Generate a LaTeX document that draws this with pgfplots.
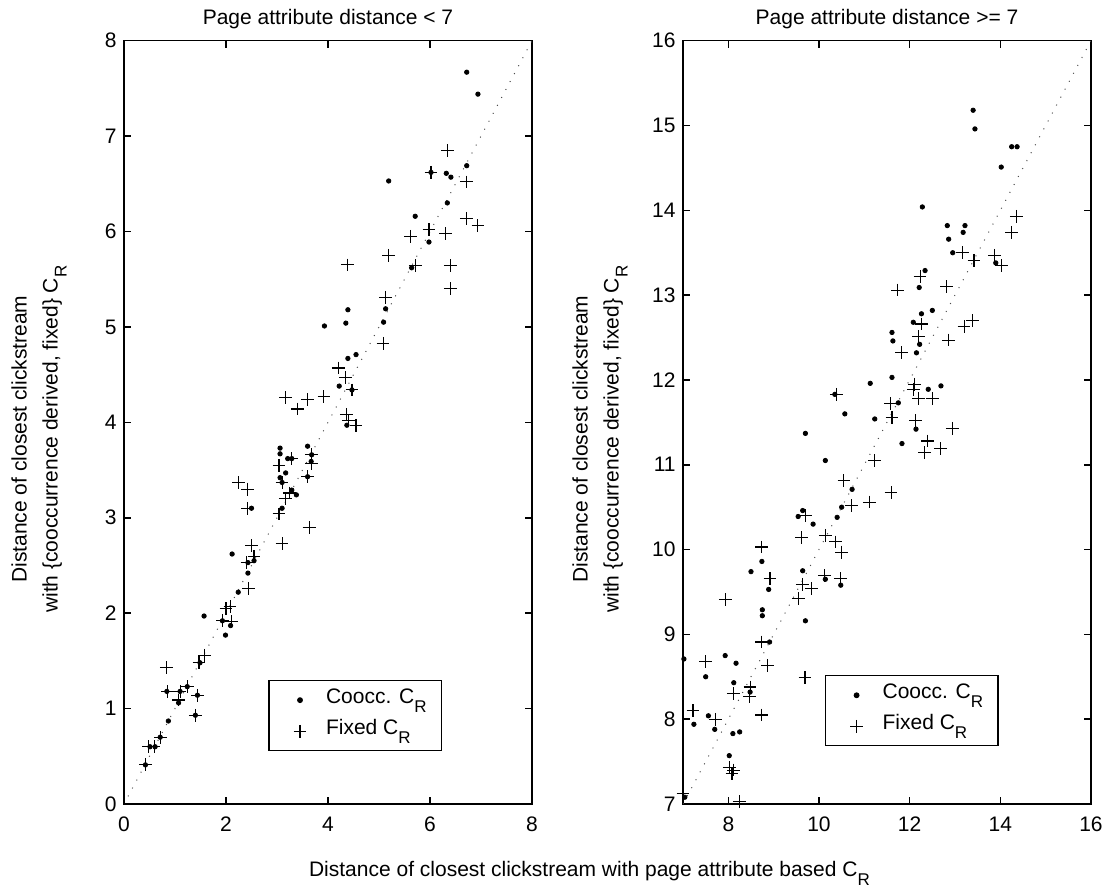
\documentclass[border=0pt]{standalone}
\usepackage{fontspec}
\setmainfont{Liberation Sans}
\usepackage{pgfplots}
\pgfplotsset{compat=1.18}

% subscript R as drawn by the original
\newcommand{\CR}{C\raisebox{-4.5pt}{\fontsize{8.5}{9}\selectfont R}}

\pgfplotsset{
  panel/.style={
    scale only axis, width=204pt, height=381.65pt, anchor=south west,
    font=\fontsize{10.5}{12.6}\selectfont,
    axis line style={line width=0.75pt},
    every tick/.style={black, line width=0.75pt},
    major tick length=3.5pt,
    tick align=inside, tick pos=both,
    /pgf/number format/assume math mode=true,
    xticklabel style={anchor=base, inner sep=0pt, yshift=-13.8pt},
    yticklabel style={anchor=east, inner sep=0pt, xshift=-3.5pt},
    every axis title/.style={at={(0.5,1)}, anchor=base, yshift=8.3pt},
    every axis y label/.style={rotate=90, anchor=center, align=center,
      font=\fontsize{10.5}{15.5}\selectfont},
    legend style={draw=black, line width=0.7pt, fill=white,
      inner xsep=7.5pt, inner ysep=2pt, row sep=0pt, anchor=north west,
      nodes={inner sep=0pt, text height=9.3pt, text depth=6.2pt}},
    legend cell align=left,
    legend image code/.code={\path[draw=none] (0pt,0pt) -- (21pt,0pt);
      \draw[only marks] plot coordinates {(8pt,0pt)};},
  },
  coocc/.style={only marks, mark=*, mark size=1.1pt, black},
  fixed/.style={only marks, mark=+, mark size=3.2pt, black, line width=0.55pt},
  diag/.style={black!70, line width=0.5pt, dash pattern=on 0.5pt off 4pt, forget plot},
}

\begin{document}
\begin{tikzpicture}
\path[use as bounding box] (0,0) rectangle (553.5pt,444pt);

\begin{axis}[panel, at={(62pt,42pt)},
  xmin=0, xmax=8, ymin=0, ymax=8,
  xtick={0,2,4,6,8}, ytick={0,1,2,3,4,5,6,7,8},
  title={Page attribute distance < 7},
  ylabel={Distance of closest clickstream\\with \{cooccurrence derived, fixed\} \CR},
  ylabel style={at={(axis description cs:-0.2083,0.478)}},
  legend style={at={(axis cs:2.83,1.30)}}]
\addplot[coocc] coordinates {
(6.72,7.67) (6.94,7.44) (6.72,6.69) (6.32,6.61) (6.41,6.57) (6.02,6.62)
(5.19,6.53) (6.34,6.30) (5.71,6.16) (5.98,5.89) (5.64,5.62) (5.13,5.19)
(4.39,5.18) (5.09,5.05) (4.35,5.04) (3.93,5.01) (4.55,4.71) (4.39,4.67)
(4.22,4.38) (4.47,4.34) (4.37,3.97) (3.60,3.75) (3.06,3.73) (3.06,3.67)
(3.21,3.62) (3.29,3.62) (3.68,3.66) (3.67,3.59) (3.17,3.47) (3.06,3.42)
(3.60,3.43) (3.10,3.37) (3.29,3.29) (3.38,3.24) (2.50,3.10) (3.10,3.10)
(2.12,2.62) (2.55,2.55) (2.43,2.53) (2.43,2.42) (2.24,2.22) (1.57,1.97)
(1.93,1.92) (2.09,1.87) (1.99,1.77) (1.49,1.48) (0.87,0.87) (0.84,1.18)
(1.10,1.18) (1.24,1.23) (1.07,1.06) (1.44,1.14) (1.40,0.93) (0.71,0.70)
(0.51,0.60) (0.61,0.60) (0.42,0.41)
};
\addlegendentry{Coocc. \CR}
\addplot[fixed] coordinates {
(6.34,6.85) (6.02,6.62) (6.71,6.52) (6.71,6.14) (6.94,6.06) (5.98,6.02)
(6.31,5.98) (5.62,5.95) (5.19,5.75) (4.38,5.65) (5.71,5.64) (6.40,5.64)
(6.40,5.40) (5.13,5.31) (5.08,4.83) (4.20,4.57) (4.35,4.47) (4.47,4.34)
(3.17,4.26) (3.92,4.27) (3.60,4.24) (3.40,4.14) (4.36,4.08) (4.40,4.02)
(4.55,3.97) (3.04,3.55) (3.29,3.62) (3.67,3.66) (3.67,3.57) (3.60,3.43)
(3.10,3.37) (3.24,3.26) (3.16,3.20) (2.24,3.37) (2.42,3.30) (2.42,3.10)
(3.04,3.04) (3.63,2.90) (3.10,2.73) (2.50,2.71) (2.55,2.59) (2.41,2.53)
(2.44,2.26) (2.00,2.05) (2.08,2.07) (1.93,1.92) (2.11,1.91) (1.58,1.56)
(1.47,1.48) (0.83,1.43) (0.86,1.18) (1.10,1.18) (1.24,1.23) (1.07,1.09)
(1.44,1.14) (1.40,0.93) (0.72,0.70) (0.48,0.60) (0.59,0.60) (0.42,0.41)
};
\addlegendentry{Fixed \CR}
\addplot[diag] coordinates {(0.08,0.08) (8,8)};
\end{axis}

\begin{axis}[panel, at={(341.5pt,42pt)},
  xmin=7, xmax=16, ymin=7, ymax=16,
  xtick={8,10,12,14,16}, ytick={7,8,9,10,11,12,13,14,15,16},
  title={Page attribute distance >= 7},
  ylabel={Distance of closest clickstream\\with \{cooccurrence derived, fixed\} \CR},
  ylabel style={at={(axis description cs:-0.2034,0.478)}},
  legend style={at={(axis cs:10.13,8.52)}}]
\addplot[coocc] coordinates {
(13.40,15.18) (13.44,14.96) (14.25,14.75) (14.37,14.75) (14.02,14.51)
(12.28,14.04) (12.83,13.82) (13.22,13.82) (12.86,13.66) (13.18,13.74)
(12.95,13.50) (13.90,13.38) (12.34,13.29) (12.21,13.09) (12.50,12.82)
(12.26,12.78) (12.08,12.68) (11.61,12.56) (11.63,12.46) (12.22,12.42)
(12.15,12.32) (11.61,12.03) (11.13,11.96) (12.41,11.89) (12.69,11.93)
(10.35,11.83) (11.75,11.73) (10.57,11.60) (11.23,11.54) (12.14,11.42)
(9.70,11.37) (11.83,11.25) (10.14,11.05) (10.73,10.71) (10.50,10.50)
(9.64,10.46) (9.54,10.39) (10.40,10.38) (9.87,10.30) (8.74,9.86)
(8.50,9.74) (9.64,9.75) (10.14,9.65) (10.48,9.58) (8.89,9.53)
(8.75,9.29) (8.75,9.22) (9.70,9.16) (8.91,8.91) (7.02,8.71)
(7.93,8.75) (8.17,8.66) (7.50,8.50) (8.12,8.43) (8.48,8.32)
(7.56,8.04) (7.24,7.94) (7.70,7.88) (8.10,7.83) (8.25,7.85)
(8.02,7.57) (7.04,7.08)
};
\addlegendentry{Coocc. \CR}
\addplot[fixed] coordinates {
(14.35,13.93) (14.25,13.74) (13.16,13.50) (13.88,13.47) (13.42,13.41)
(14.02,13.35) (12.23,13.22) (12.82,13.10) (11.73,13.06) (12.26,12.66)
(13.20,12.63) (13.39,12.70) (12.20,12.51) (12.86,12.47) (11.82,12.32)
(12.11,11.95) (12.08,11.89) (12.20,11.78) (12.50,11.78) (10.38,11.83)
(11.58,11.72) (11.61,11.56) (12.13,11.52) (12.94,11.43) (12.40,11.28)
(12.68,11.19) (12.33,11.14) (11.22,11.05) (10.55,10.81) (11.59,10.67)
(11.11,10.56) (10.72,10.52) (9.70,10.40) (10.14,10.17) (9.62,10.14)
(10.37,10.09) (10.50,9.97) (8.73,10.03) (8.92,9.66) (10.13,9.69)
(10.47,9.66) (9.63,9.59) (9.84,9.54) (9.54,9.42) (7.93,9.41)
(8.73,8.91) (8.87,8.63) (7.50,8.68) (9.69,8.49) (8.48,8.38)
(8.47,8.27) (8.11,8.30) (7.22,8.10) (7.71,8.00) (8.73,8.05)
(8.02,7.43) (8.12,7.40) (8.08,7.36) (7.00,7.12) (8.24,7.03)
};
\addlegendentry{Fixed \CR}
\addplot[diag] coordinates {(7,7) (16,16)};
\end{axis}

\node[anchor=base west, font=\fontsize{10.5}{12.6}\selectfont]
  at (151pt,5.7pt) {Distance of closest clickstream with page attribute based \CR};
\end{tikzpicture}
\end{document}
